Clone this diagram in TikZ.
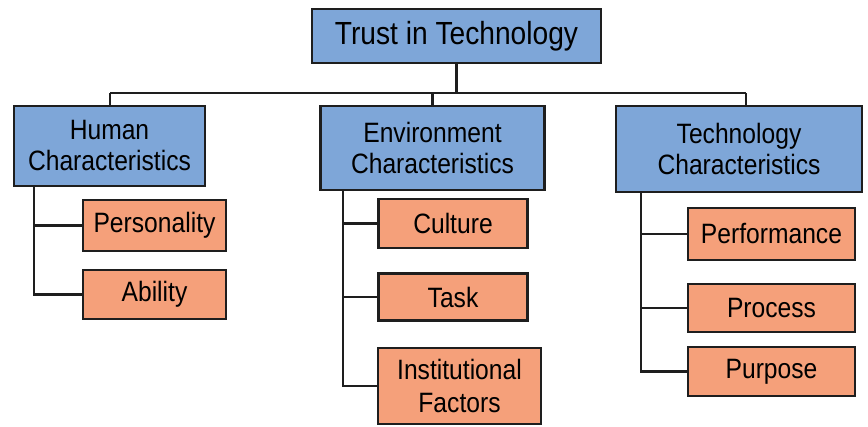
\documentclass[tikz,border=0pt]{standalone}
\usepackage{fontspec}
\setmainfont{Liberation Sans}[FakeStretch=0.88]
\definecolor{boxblue}{RGB}{126,166,216}
\definecolor{boxorange}{RGB}{245,160,122}
\definecolor{edge}{RGB}{30,30,30}
\begin{document}
\begin{tikzpicture}[x=1pt,y=-1pt,
  base/.style={draw=edge,line width=2.2pt,inner sep=0pt,align=center,text=black},
  topbox/.style={base,fill=boxblue,font=\fontsize{32}{35}\selectfont},
  midbox/.style={base,fill=boxblue,font=\fontsize{28}{31}\selectfont},
  leafbox/.style={base,fill=boxorange,font=\fontsize{28}{33}\selectfont},
  link/.style={draw=edge,line width=2.2pt}]
\useasboundingbox (0,0) rectangle (868,426);
\node[topbox,minimum width=289pt,minimum height=54pt] (root) at (456.5,36) {Trust in Technology};
\node[midbox,minimum width=191pt,minimum height=80pt] (human) at (109.5,146) {Human\\Characteristics};
\node[midbox,minimum width=224pt,minimum height=84pt] (env) at (432.5,148) {Environment\\Characteristics};
\node[midbox,minimum width=246pt,minimum height=86pt] (tech) at (739,149) {Technology\\Characteristics};
\node[leafbox,minimum width=143pt,minimum height=51pt] (pers) at (154.5,225.5) {Personality};
\node[leafbox,minimum width=143pt,minimum height=49pt] (abil) at (154.5,294.5) {Ability};
\node[leafbox,minimum width=149pt,minimum height=49pt] (cult) at (453,223.5) {Culture};
\node[leafbox,minimum width=149pt,minimum height=47pt] (task) at (453,297) {Task};
\node[leafbox,minimum width=163pt,minimum height=76pt] (inst) at (459.5,386) {Institutional\\Factors};
\node[leafbox,minimum width=167pt,minimum height=52pt] (perf) at (771.5,234) {Performance};
\node[leafbox,minimum width=167pt,minimum height=48pt] (proc) at (771.5,308) {Process};
\node[leafbox,minimum width=167pt,minimum height=49pt] (purp) at (771.5,371.5) {Purpose};
% top level connectors
\coordinate (jL) at (110,93);
\coordinate (jR) at (746,93);
\draw[link] (jL) -- (jR);
\draw[link] (root.south) -- (root.south |- jL);
\draw[link] (jL) -- (jL |- human.north);
\draw[link] (env.north |- jL) -- (env.north);
\draw[link] (jR) -- (jR |- tech.north);
% human children
\coordinate (hx) at (34,0);
\draw[link] (hx |- human.south) |- (abil.west);
\draw[link] (hx |- pers.west) -- (pers.west);
% environment children
\coordinate (ex) at (343,0);
\draw[link] (ex |- env.south) |- (inst.west);
\draw[link] (ex |- cult.west) -- (cult.west);
\draw[link] (ex |- task.west) -- (task.west);
% technology children
\coordinate (tx) at (641,0);
\draw[link] (tx |- tech.south) |- (purp.west);
\draw[link] (tx |- perf.west) -- (perf.west);
\draw[link] (tx |- proc.west) -- (proc.west);
\end{tikzpicture}
\end{document}
